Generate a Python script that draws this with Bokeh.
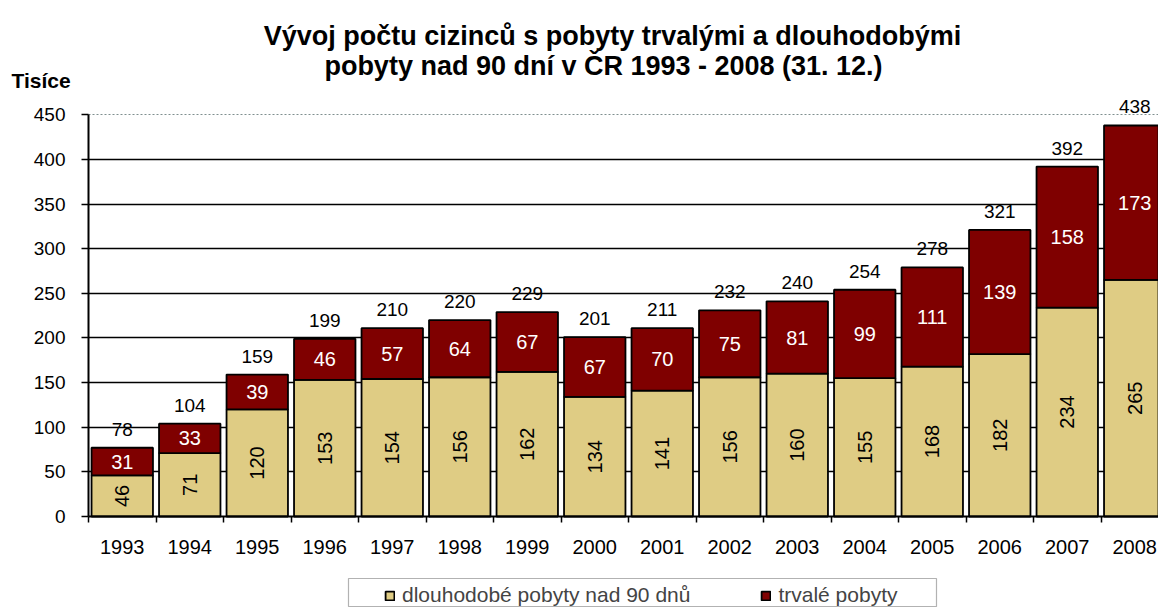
import math
from bokeh.plotting import figure
from bokeh.models import (ColumnDataSource, LabelSet, Label, Legend, LegendItem,
                          FixedTicker, Grid, BoxAnnotation)
from bokeh.core.properties import value
from bokeh.embed import file_html
from bokeh.resources import INLINE

# ---- data ----
years = [1993, 1994, 1995, 1996, 1997, 1998, 1999, 2000, 2001, 2002, 2003, 2004, 2005, 2006, 2007, 2008]
dlouhodobe = [46, 71, 120, 153, 154, 156, 162, 134, 141, 156, 160, 155, 168, 182, 234, 265]
trvale = [31, 33, 39, 46, 57, 64, 67, 67, 70, 75, 81, 99, 111, 139, 158, 173]
celkem = [78, 104, 159, 199, 210, 220, 229, 201, 211, 232, 240, 254, 278, 321, 392, 438]
y_ticks = [0, 50, 100, 150, 200, 250, 300, 350, 400, 450]

title1 = "Vývoj počtu cizinců s pobyty trvalými a dlouhodobými"
title2 = "pobyty nad 90 dní v ČR 1993 - 2008 (31. 12.)"
unit_label = "Tisíce"
series_names = ["dlouhodobé pobyty nad 90 dnů", "trvalé pobyty"]

KHAKI = "#DFCC84"
DARKRED = "#7F0000"
FONT = "Liberation Sans"

W, H = 1158, 607
X0, Y0 = 88, 516           # pixel position of the axes origin
UX, UY = 67.5, 0.8927      # pixels per category / per thousand
x_start = -0.5 - X0 / UX
x_end = -0.5 + (W - X0) / UX
y_start = -(H - Y0) / UY
y_end = Y0 / UY

xs = list(range(len(years)))
top_all = [a + b for a, b in zip(dlouhodobe, trvale)]
src = ColumnDataSource(dict(
    x=xs, dl=dlouhodobe, tr=trvale, top=top_all, tot=celkem,
    dl_mid=[v / 2 for v in dlouhodobe],
    tr_mid=[a + b / 2 for a, b in zip(dlouhodobe, trvale)],
    dl_txt=[str(v) for v in dlouhodobe],
    tr_txt=[str(v) for v in trvale],
    tot_txt=[str(v) for v in celkem],
))

p = figure(frame_width=W, frame_height=H,
           x_range=(x_start, x_end), y_range=(y_start, y_end),
           output_backend="svg", toolbar_location=None,
           min_border=0)
p.outline_line_color = None
p.background_fill_color = "white"
p.border_fill_color = "white"

# grid
p.xgrid.visible = False
p.ygrid.ticker = FixedTicker(ticks=y_ticks[1:-1])
p.ygrid.grid_line_color = "black"
p.ygrid.grid_line_width = 1.4
top_grid = Grid(dimension=1, ticker=FixedTicker(ticks=[y_ticks[-1]]),
                grid_line_color="#7f8f8f", grid_line_dash="2 2", grid_line_width=1)
for g in (p.ygrid[0], top_grid):
    try:
        g.cross_bounds = (-0.5, x_end)
    except AttributeError:
        pass
p.add_layout(top_grid)

# bars
r1 = p.vbar(x="x", width=0.91, bottom=0, top="dl", source=src,
            fill_color=KHAKI, line_color="black", line_width=1.8)
r2 = p.vbar(x="x", width=0.91, bottom="dl", top="top", source=src,
            fill_color=DARKRED, line_color="black", line_width=1.8)

# axes (fixed inside the frame)
yax = p.yaxis[0]
yax.fixed_location = -0.5
yax.ticker = FixedTicker(ticks=y_ticks)
yax.bounds = (0, 450)
yax.axis_line_color = "black"
yax.axis_line_width = 2
yax.major_tick_out = 7
yax.major_tick_in = 0
yax.major_tick_line_width = 1.5
yax.minor_tick_line_color = None
yax.major_label_standoff = 16
yax.major_label_text_font = FONT
yax.major_label_text_font_size = "19px"
yax.major_label_text_color = "black"

xax = p.xaxis[0]
xax.fixed_location = 0
xax.ticker = FixedTicker(ticks=xs, minor_ticks=[i - 0.5 for i in range(len(years) + 1)])
xax.bounds = (-0.5, x_end)
xax.major_label_overrides = {i: str(y) for i, y in zip(xs, years)}
xax.axis_line_color = "black"
xax.axis_line_width = 2
xax.major_tick_out = 0
xax.major_tick_in = 0
xax.major_tick_line_color = None
xax.minor_tick_out = 6
xax.minor_tick_in = 0
xax.minor_tick_line_color = "black"
xax.minor_tick_line_width = 1.5
xax.major_label_standoff = 17
xax.major_label_text_font = FONT
xax.major_label_text_font_size = "20px"
xax.major_label_text_color = "black"

# value labels
p.add_layout(LabelSet(x="x", y="dl_mid", text="dl_txt", source=src, angle=math.pi / 2,
                      text_align="center", text_baseline="middle",
                      text_font=value(FONT), text_font_size=value("20px"), text_color="black"))
p.add_layout(LabelSet(x="x", y="tr_mid", text="tr_txt", source=src,
                      text_align="center", text_baseline="middle",
                      text_font=value(FONT), text_font_size=value("20px"), text_color="white"))
p.add_layout(LabelSet(x="x", y="top", text="tot_txt", source=src, y_offset=12,
                      text_align="center", text_baseline="alphabetic",
                      text_font=value(FONT), text_font_size=value("19px"), text_color="black"))

# titles (screen units: from frame's bottom-left, y upwards)
p.add_layout(Label(x=612, y=H - 35, x_units="screen", y_units="screen", text=title1,
                   text_align="center", text_baseline="alphabetic",
                   text_font=FONT, text_font_size="27px", text_font_style="bold",
                   text_color="black"))
p.add_layout(Label(x=603, y=H - 65, x_units="screen", y_units="screen", text=title2,
                   text_align="center", text_baseline="alphabetic",
                   text_font=FONT, text_font_size="27px", text_font_style="bold",
                   text_color="black"))
p.add_layout(Label(x=11, y=H - 80, x_units="screen", y_units="screen", text=unit_label,
                   text_align="left", text_baseline="alphabetic",
                   text_font=FONT, text_font_size="21px", text_font_style="bold",
                   text_color="black"))

# legend
legend = Legend(items=[LegendItem(label=series_names[0], renderers=[r1]),
                       LegendItem(label=series_names[1], renderers=[r2])],
                orientation="horizontal", location=(384, 0),
                padding=3, spacing=70, glyph_width=11, glyph_height=11,
                label_standoff=7, label_text_font=FONT, label_text_font_size="21px",
                border_line_color=None, background_fill_alpha=0)
p.add_layout(legend)
p.add_layout(BoxAnnotation(left=348, right=936, top=H - 578, bottom=1,
                           left_units="screen", right_units="screen",
                           top_units="screen", bottom_units="screen",
                           fill_color=None, line_color="black", line_width=1.2))

open("out.html", "w").write(file_html(p, INLINE))
